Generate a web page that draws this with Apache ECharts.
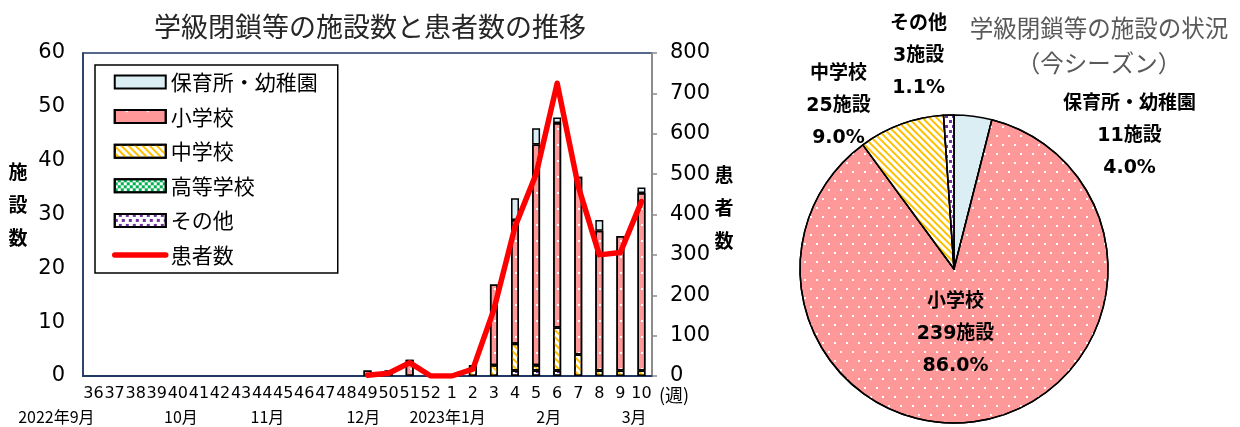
<!DOCTYPE html>
<html>
<head>
<meta charset="utf-8">
<script src="https://cdn.jsdelivr.net/npm/echarts@6/dist/echarts.min.js"></script>
<style>
  html, body { margin: 0; padding: 0; background: #ffffff; }
  #chart { width: 1240px; height: 427px; }
</style>
</head>
<body>
<div id="chart"></div>
<script>
// ---- data ----------------------------------------------------------------
const weeks = ['36','37','38','39','40','41','42','43','44','45','46','47','48','49','50','51','52',
               '1','2','3','4','5','6','7','8','9','10'];
// facilities with class closures, per week
const nursery    = [0,0,0,0,0,0,0,0,0,0,0,0,0, 0,0,0,0, 0,0,0, 4,3,1,0,2,0,1];
const elementary = [0,0,0,0,0,0,0,0,0,0,0,0,0, 1,1,3,0, 0,0,15, 23,41,38,33,26,25,33];
const juniorHigh = [0,0,0,0,0,0,0,0,0,0,0,0,0, 0,0,0,0, 0,2,2, 5,1,8,4,1,1,1];
const highSchool = [0,0,0,0,0,0,0,0,0,0,0,0,0, 0,0,0,0, 0,0,0, 0,0,0,0,0,0,0];
const others     = [0,0,0,0,0,0,0,0,0,0,0,0,0, 0,0,0,0, 0,0,0, 1,1,1,0,0,0,0];
// patients per week (no reports before week 49)
const patients   = [null,null,null,null,null,null,null,null,null,null,null,null,null,
                    2,7,33,0, 0,17,165, 370,500,725,470,300,306,432];

const facilityAxis = { min: 0, max: 60, step: 10 };
const patientAxis  = { min: 0, max: 800, step: 100 };

const monthNames = ['2022年9月','10月','11月','12月','2023年1月','2月','3月'];
const monthWeeks = ['36','40','44','49','1','5','9'];

// season totals
const pieNames  = ['保育所・幼稚園','小学校','中学校','その他'];
const pieValues = [11, 239, 25, 3];

// ---- styles --------------------------------------------------------------
const JP = "'Noto Sans CJK JP', sans-serif";
const NUM = "'DejaVu Sans', 'Noto Sans CJK JP', sans-serif";

const dotsBar   = { symbol: 'rect', symbolSize: 1, color: '#ffffff', dashArrayX: [0, 11, 2, 8], dashArrayY: [2, 14] };
const dotsPie   = { symbol: 'rect', symbolSize: 1, color: '#ffffff', dashArrayX: [[2, 10], [0, 6, 2, 4]], dashArrayY: [2, 7] };
const stripes   = { symbol: 'rect', symbolSize: 1, color: '#ffc000', dashArrayX: [1, 0], dashArrayY: [2, 3], rotation: Math.PI / 4 };
const checker   = { symbol: 'rect', symbolSize: 1, color: '#00b050', dashArrayX: [[3, 3], [0, 3, 3, 0]], dashArrayY: [3, 0] };
const speckles  = { symbol: 'rect', symbolSize: 1, color: '#7030a0', dashArrayX: [[3, 4], [0, 4, 3, 0]], dashArrayY: [3, 2] };

const kinds = [
  { name: '保育所・幼稚園', data: nursery,    color: '#daeef3', decal: null },
  { name: '小学校',         data: elementary, color: '#ff9999', decal: dotsBar },
  { name: '中学校',         data: juniorHigh, color: '#ffffff', decal: stripes },
  { name: '高等学校',       data: highSchool, color: '#ffffff', decal: checker },
  { name: 'その他',         data: others,     color: '#ffffff', decal: speckles }
];
const pieStyles = {
  '保育所・幼稚園': { color: '#daeef3' },
  '小学校': { color: '#ff9999', decal: dotsPie },
  '中学校': { color: '#ffffff', decal: stripes },
  'その他': { color: '#ffffff', decal: speckles }
};

// stacked from the bottom: その他, 高等学校, 中学校, 小学校, 保育所・幼稚園
const barSeries = kinds.slice().reverse().map(k => ({
  name: k.name,
  type: 'bar',
  stack: 'facilities',
  barWidth: 8,
  data: k.data.map(v => (v > 0 ? v : '-')),
  itemStyle: Object.assign(
    { color: k.color, borderColor: '#000000', borderWidth: 1.5 },
    k.decal ? { decal: k.decal } : {}
  ),
  emphasis: { disabled: true }
}));

const pieCenter = [954, 269];
const pieRadius = 154;
// label block centres, in units of the pie radius from its centre
const pieLabelSpots = [[1.14, -0.86], [0.01, 0.42], [-0.75, -1.06], [-0.23, -1.38]];

const option = {
  animation: false,
  grid: {
    left: 83, right: 588, top: 53, bottom: 51,
    show: true, borderColor: '#1f3864', borderWidth: 1.5, backgroundColor: 'transparent'
  },
  legend: {
    orient: 'vertical',
    left: 95, top: 65,
    backgroundColor: '#ffffff',
    borderColor: '#000000', borderWidth: 1.5,
    padding: [5, 20, 6, 17],
    itemWidth: 51, itemHeight: 13, itemGap: 10.6,
    textStyle: { fontFamily: JP, fontSize: 21, lineHeight: 24, color: '#000000' },
    data: [
      { name: '保育所・幼稚園', icon: 'rect' },
      { name: '小学校', icon: 'rect' },
      { name: '中学校', icon: 'rect' },
      { name: '高等学校', icon: 'rect' },
      { name: 'その他', icon: 'rect' },
      { name: '患者数', itemStyle: { opacity: 0 }, lineStyle: { width: 5.5, cap: 'round' } }
    ],
    selectedMode: false
  },
  xAxis: {
    type: 'category',
    data: weeks,
    axisLine: { lineStyle: { color: '#1f3864', width: 2 } },
    axisTick: { show: false },
    axisLabel: { interval: 0, margin: 10, fontFamily: NUM, fontSize: 16, color: '#000000' }
  },
  yAxis: [
    {
      type: 'value', min: facilityAxis.min, max: facilityAxis.max, interval: facilityAxis.step,
      axisLine: { show: true, lineStyle: { color: '#1f3864', width: 1.5 } },
      axisTick: { show: false },
      splitLine: { show: false },
      axisLabel: { margin: 18, fontFamily: NUM, fontSize: 21, color: '#000000' }
    },
    {
      type: 'value', min: patientAxis.min, max: patientAxis.max, interval: patientAxis.step,
      position: 'right',
      axisLine: { show: true, lineStyle: { color: '#8c8c8c', width: 2 } },
      axisTick: { show: true, inside: false, length: 5, lineStyle: { color: '#8c8c8c', width: 1.5 } },
      splitLine: { show: false },
      axisLabel: { margin: 18, fontFamily: NUM, fontSize: 21, color: '#000000' }
    }
  ],
  series: barSeries.concat([
    {
      name: '患者数',
      type: 'line',
      yAxisIndex: 1,
      data: patients,
      symbol: 'none',
      connectNulls: false,
      z: 5,
      lineStyle: { color: '#ff0000', width: 5.5, join: 'round', cap: 'round' },
      itemStyle: { color: '#ff0000' },
      emphasis: { disabled: true }
    },
    {
      name: '施設の状況',
      type: 'pie',
      center: pieCenter,
      radius: pieRadius,
      startAngle: 90,
      clockwise: true,
      legendHoverLink: false,
      emphasis: { disabled: true },
      itemStyle: { borderColor: '#000000', borderWidth: 1.5 },
      labelLine: { show: false },
      label: {
        show: true,
        position: 'inside',
        color: '#000000',
        fontFamily: NUM,
        fontSize: 19,
        fontWeight: 'bold',
        lineHeight: 32,
        align: 'center',
        formatter: p => p.name + '\n' + p.value + '施設\n' + p.percent.toFixed(1) + '%'
      },
      labelLayout: p => {
        const s = pieLabelSpots[p.dataIndex];
        return {
          x: pieCenter[0] + s[0] * pieRadius,
          y: pieCenter[1] + s[1] * pieRadius,
          align: 'center',
          verticalAlign: 'middle'
        };
      },
      data: pieNames.map((n, i) => ({
        name: n,
        value: pieValues[i],
        itemStyle: pieStyles[n]
      }))
    }
  ])
};

const chart = echarts.init(document.getElementById('chart'), null, { renderer: 'canvas' });
chart.setOption(option);

// ---- titles, axis names and the month row --------------------------------
const band = chart.convertToPixel({ xAxisIndex: 0 }, weeks[1]) - chart.convertToPixel({ xAxisIndex: 0 }, weeks[0]);
const monthShift = [0.05, 0.15, 0.25, -0.2, -0.2, 0.6, 0.65];
const baseY = chart.convertToPixel({ yAxisIndex: 0 }, 0);

const texts = [];
monthNames.forEach((m, i) => {
  const cx = chart.convertToPixel({ xAxisIndex: 0 }, monthWeeks[i]) + monthShift[i] * band;
  texts.push({
    type: 'text', x: cx, y: baseY + 41, silent: true,
    style: { text: m, fontFamily: JP, fontSize: 16, fill: '#000000',
             align: i === 0 ? 'right' : 'center', verticalAlign: 'middle' }
  });
});
texts.push(
  { type: 'text', x: 370, y: 27, silent: true,
    style: { text: '学級閉鎖等の施設数と患者数の推移', fontFamily: JP, fontSize: 27, fill: '#262626',
             align: 'center', verticalAlign: 'middle' } },
  { type: 'text', x: 1099, y: 46, silent: true,
    style: { text: '学級閉鎖等の施設の状況\n（今シーズン）', fontFamily: JP, fontSize: 23.5, lineHeight: 35,
             fill: '#595959', align: 'center', verticalAlign: 'middle' } },
  { type: 'text', x: 18, y: 205, silent: true,
    style: { text: '施\n設\n数', fontFamily: JP, fontSize: 19, fontWeight: 'bold', lineHeight: 33,
             fill: '#000000', align: 'center', verticalAlign: 'middle' } },
  { type: 'text', x: 724, y: 208, silent: true,
    style: { text: '患\n者\n数', fontFamily: JP, fontSize: 19, fontWeight: 'bold', lineHeight: 33,
             fill: '#000000', align: 'center', verticalAlign: 'middle' } },
  { type: 'text', x: 674, y: baseY + 19, silent: true,
    style: { text: '(週)', fontFamily: JP, fontSize: 18, fill: '#000000',
             align: 'center', verticalAlign: 'middle' } }
);
chart.setOption({ graphic: texts });
</script>
</body>
</html>
